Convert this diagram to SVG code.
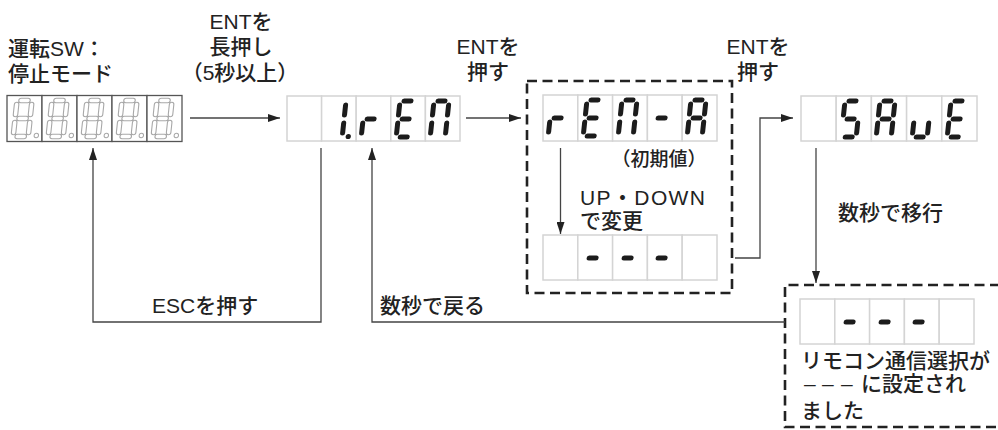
<svg xmlns="http://www.w3.org/2000/svg" xmlns:xlink="http://www.w3.org/1999/xlink" width="998" height="430" viewBox="0 0 998 430">
<style>
text{font-family:"Liberation Sans","Noto Sans CJK JP",sans-serif;font-size:21px;fill:#222;font-weight:500}
.mid{text-anchor:middle}
.cell{fill:#fff;stroke:#d4d4d4;stroke-width:1.5}
.cellD{fill:#fff;stroke:#555;stroke-width:1.3}
.seg{fill:none;stroke:#1c1c1c;stroke-width:5;stroke-linecap:round}
.go{fill:none;stroke:#a8a8a8;stroke-width:5.6;stroke-linecap:round}
.gi{fill:none;stroke:#fff;stroke-width:3.4;stroke-linecap:round}
.dot{fill:#1c1c1c}
.gdot{fill:#fff;stroke:#a8a8a8;stroke-width:1}
.ln{fill:none;stroke:#444;stroke-width:1.3}
.dash{fill:none;stroke:#222;stroke-width:2.6;stroke-dasharray:10 5.5}
</style>
<defs>
<marker id="ah" viewBox="0 0 12 8" refX="12" refY="4" markerWidth="12" markerHeight="8" markerUnits="userSpaceOnUse" orient="auto">
<path d="M0 0L12 4L0 8z" fill="#222"/>
</marker>
<path id="g8" d="M4 0H11M15 4V14M15 22V32M4 36H11M0 22V32M0 4V14M4 18H11"/>
<path id="g1" d="M15 4V14M15 22V32"/>
<path id="gr" d="M0 22V32M4 18H11"/>
<path id="gE" d="M4 0H11M4 36H11M0 22V32M0 4V14M4 18H11"/>
<path id="gN" d="M4 0H11M15 4V14M15 22V32M0 22V32M0 4V14"/>
<path id="gm" d="M4 18H11"/>
<path id="gA" d="M4 0H11M15 4V14M15 22V32M0 22V32M0 4V14M4 18H11"/>
<path id="gS" d="M4 0H11M0 4V14M4 18H11M15 22V32M4 36H11"/>
<path id="gu" d="M15 22V32M4 36H11M0 22V32"/>
<g id="ghost">
<use xlink:href="#g8" class="go"/>
<use xlink:href="#g8" class="gi"/>
<circle cx="23" cy="35" r="2.2" class="gdot"/>
</g>
</defs>

<g id="disp-run">
<rect x="7" y="95.5" width="35" height="46" class="cellD"/>
<rect x="42" y="95.5" width="35" height="46" class="cellD"/>
<rect x="77" y="95.5" width="35" height="46" class="cellD"/>
<rect x="112" y="95.5" width="35" height="46" class="cellD"/>
<rect x="147" y="95.5" width="35" height="46" class="cellD"/>
<use xlink:href="#ghost" transform="translate(17,100.5) skewX(-6)"/>
<use xlink:href="#ghost" transform="translate(52,100.5) skewX(-6)"/>
<use xlink:href="#ghost" transform="translate(87,100.5) skewX(-6)"/>
<use xlink:href="#ghost" transform="translate(122,100.5) skewX(-6)"/>
<use xlink:href="#ghost" transform="translate(157,100.5) skewX(-6)"/>
</g>

<g id="disp-1rEn">
<rect x="287" y="96" width="34.6" height="45" class="cell"/>
<rect x="321.6" y="96" width="34.6" height="45" class="cell"/>
<rect x="356.2" y="96" width="34.6" height="45" class="cell"/>
<rect x="390.8" y="96" width="34.6" height="45" class="cell"/>
<rect x="425.4" y="96" width="34.6" height="45" class="cell"/>
<g transform="translate(331,101) skewX(-6)"><use xlink:href="#g1" class="seg"/><circle cx="21" cy="35.5" r="2.6" class="dot"/></g>
<use xlink:href="#gr" class="seg" transform="translate(365,101) skewX(-6)"/>
<use xlink:href="#gE" class="seg" transform="translate(400,101) skewX(-6)"/>
<use xlink:href="#gN" class="seg" transform="translate(434,101) skewX(-6)"/>
</g>

<g id="disp-rEnA">
<rect x="543" y="95" width="34.8" height="46" class="cell"/>
<rect x="577.8" y="95" width="34.8" height="46" class="cell"/>
<rect x="612.6" y="95" width="34.8" height="46" class="cell"/>
<rect x="647.4" y="95" width="34.8" height="46" class="cell"/>
<rect x="682.2" y="95" width="34.8" height="46" class="cell"/>
<use xlink:href="#gr" class="seg" transform="translate(552,100) skewX(-6)"/>
<use xlink:href="#gE" class="seg" transform="translate(587,100) skewX(-6)"/>
<use xlink:href="#gN" class="seg" transform="translate(622,100) skewX(-6)"/>
<use xlink:href="#gm" class="seg" transform="translate(656,100) skewX(-6)"/>
<use xlink:href="#gA" class="seg" transform="translate(691,100) skewX(-6)"/>
</g>

<g id="disp-dash1">
<rect x="543" y="235" width="34.8" height="45" class="cell"/>
<rect x="577.8" y="235" width="34.8" height="45" class="cell"/>
<rect x="612.6" y="235" width="34.8" height="45" class="cell"/>
<rect x="647.4" y="235" width="34.8" height="45" class="cell"/>
<rect x="682.2" y="235" width="34.8" height="45" class="cell"/>
<use xlink:href="#gm" class="seg" transform="translate(587,240) skewX(-6)"/>
<use xlink:href="#gm" class="seg" transform="translate(622,240) skewX(-6)"/>
<use xlink:href="#gm" class="seg" transform="translate(656,240) skewX(-6)"/>
</g>

<g id="disp-SAvE">
<rect x="801" y="96" width="35.2" height="45" class="cell"/>
<rect x="836.2" y="96" width="35.2" height="45" class="cell"/>
<rect x="871.4" y="96" width="35.2" height="45" class="cell"/>
<rect x="906.6" y="96" width="35.2" height="45" class="cell"/>
<rect x="941.8" y="96" width="35.2" height="45" class="cell"/>
<use xlink:href="#gS" class="seg" transform="translate(845,101) skewX(-6)"/>
<use xlink:href="#gA" class="seg" transform="translate(880,101) skewX(-6)"/>
<use xlink:href="#gu" class="seg" transform="translate(916,101) skewX(-6)"/>
<use xlink:href="#gE" class="seg" transform="translate(951,101) skewX(-6)"/>
</g>

<g id="disp-dash2">
<rect x="800" y="299" width="34.8" height="45" class="cell"/>
<rect x="834.8" y="299" width="34.8" height="45" class="cell"/>
<rect x="869.6" y="299" width="34.8" height="45" class="cell"/>
<rect x="904.4" y="299" width="34.8" height="45" class="cell"/>
<rect x="939.2" y="299" width="34.8" height="45" class="cell"/>
<use xlink:href="#gm" class="seg" transform="translate(844,304) skewX(-6)"/>
<use xlink:href="#gm" class="seg" transform="translate(879,304) skewX(-6)"/>
<use xlink:href="#gm" class="seg" transform="translate(913,304) skewX(-6)"/>
</g>

<g id="box-select">
<rect x="527" y="81" width="205" height="212" class="dash"/>
</g>
<g id="box-done">
<path d="M1000 285H785V427H1000" class="dash"/>
</g>

<g id="connectors">
<path d="M190 118H280" class="ln" marker-end="url(#ah)"/>
<path d="M466 118H521" class="ln" marker-end="url(#ah)"/>
<path d="M560.5 148V234" class="ln" marker-end="url(#ah)"/>
<path d="M735 258H760V118H793" class="ln" marker-end="url(#ah)"/>
<path d="M816 148V283" class="ln" marker-end="url(#ah)"/>
<path d="M321 148V322H93V148" class="ln" marker-end="url(#ah)"/>
<path d="M785 322H372V148" class="ln" marker-end="url(#ah)"/>
</g>

<g id="labels">
<text x="8" y="56">運転SW：</text>
<text x="8" y="81">停止モード</text>
<text x="241" y="29" class="mid">ENTを</text>
<text x="241" y="54" class="mid">長押し</text>
<text x="240" y="80" class="mid">（5秒以上）</text>
<text x="488" y="54" class="mid">ENTを</text>
<text x="488" y="79" class="mid">押す</text>
<text x="758" y="54" class="mid">ENTを</text>
<text x="758" y="79" class="mid">押す</text>
<text x="659" y="166" class="mid" style="font-size:19px">（初期値）</text>
<text x="580" y="205" textLength="125" lengthAdjust="spacing">UP・DOWN</text>
<text x="580" y="228">で変更</text>
<text x="838" y="220">数秒で移行</text>
<text x="152" y="313">ESCを押す</text>
<text x="380" y="313">数秒で戻る</text>
<text x="801" y="368">リモコン通信選択が</text>
<text y="391"><tspan x="804">–</tspan><tspan x="822">–</tspan><tspan x="841">–</tspan><tspan x="861">に設定され</tspan></text>
<text x="801" y="418">ました</text>
</g>
</svg>
